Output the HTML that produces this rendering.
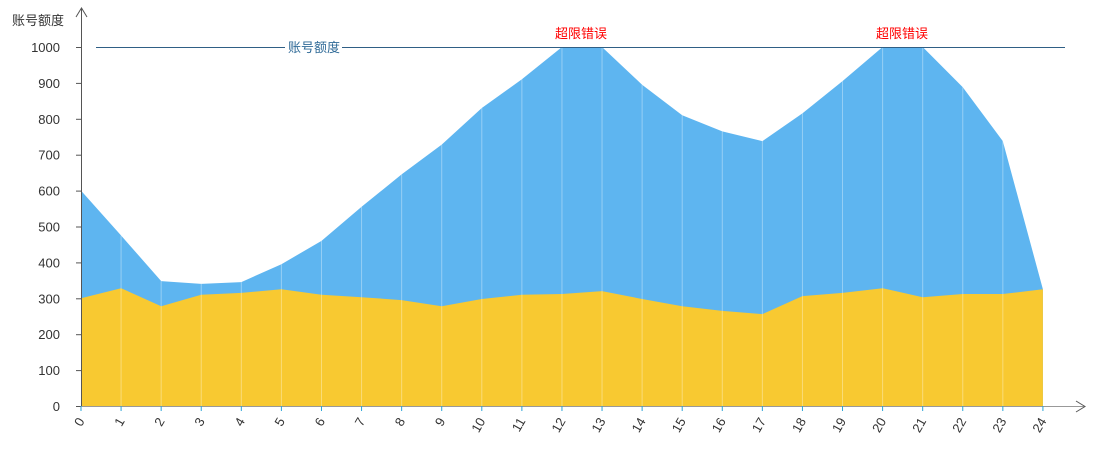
<!DOCTYPE html>
<html><head><meta charset="utf-8"><style>
html,body{margin:0;padding:0;background:#fff;width:1093px;height:450px;overflow:hidden}
svg text{font-family:"Liberation Sans","Noto Sans CJK SC",sans-serif}
</style></head><body>
<svg id="c" width="1093" height="450" xmlns="http://www.w3.org/2000/svg"></svg>
<script>
const B=[600,475,348,340,345,395,460,555,645,728,830,910,1000,1000,895,810,765,738,815,905,1000,1000,888,738,325];
const Y=[300,328,278,310,315,325,310,303,295,278,298,310,312,320,298,278,265,256,306,315,328,303,312,312,325];
const x0=81,dx=40.08,y0=406,k=0.359;
const X=i=>x0+i*dx, V=v=>y0-v*k;
let s='';
function poly(arr,col){let p=arr.map((v,i)=>X(i).toFixed(1)+','+V(v).toFixed(1)).join(' ');
 return `<polygon points="${X(0)},${y0} ${p} ${X(24)},${y0}" fill="${col}"/>`;}
s+=poly(B,'#5eb5f0');
s+=poly(Y,'#f8c931');
for(let i=1;i<24;i++)s+=`<line x1="${X(i)}" y1="${V(B[i])}" x2="${X(i)}" y2="${y0}" stroke="#fff" stroke-opacity="0.35" stroke-width="1"/>`;
s+=`<line x1="81.5" y1="8" x2="81.5" y2="406" stroke="#555"/>`;
s+=`<polyline points="76,17 81.5,8 87,17" fill="none" stroke="#555"/>`;
for(let v=0;v<=1000;v+=100){let y=V(v)+0.5;s+=`<line x1="76" y1="${y}" x2="81" y2="${y}" stroke="#555"/>`;
 s+=`<text x="60" y="${y+4.5}" font-size="13" text-anchor="end" fill="#333">${v}</text>`;}
s+=`<text x="38" y="25" font-size="13" text-anchor="middle" fill="#333">账号额度</text>`;
s+=`<line x1="81" y1="406.5" x2="1085" y2="406.5" stroke="#999"/>`;
s+=`<polyline points="1076,401 1085,406.5 1076,412" fill="none" stroke="#555"/>`;
for(let i=0;i<=24;i++){let x=X(i);s+=`<line x1="${x}" y1="406" x2="${x}" y2="411" stroke="#2aa4d8"/>`;
 s+=`<text transform="translate(${x+4},${421}) rotate(-60)" font-size="13" text-anchor="end" fill="#333">${i}</text>`;}
s+=`<line x1="96" y1="47.5" x2="285" y2="47.5" stroke="#2f5f85"/><line x1="342" y1="47.5" x2="1065" y2="47.5" stroke="#2f5f85"/>`;
s+=`<text x="314" y="52" font-size="13" text-anchor="middle" fill="#2f6a97">账号额度</text>`;
s+=`<text x="581" y="38" font-size="13" text-anchor="middle" fill="#f00">超限错误</text>`;
s+=`<text x="902" y="38" font-size="13" text-anchor="middle" fill="#f00">超限错误</text>`;
document.getElementById('c').innerHTML=s;
</script>
</body></html>
